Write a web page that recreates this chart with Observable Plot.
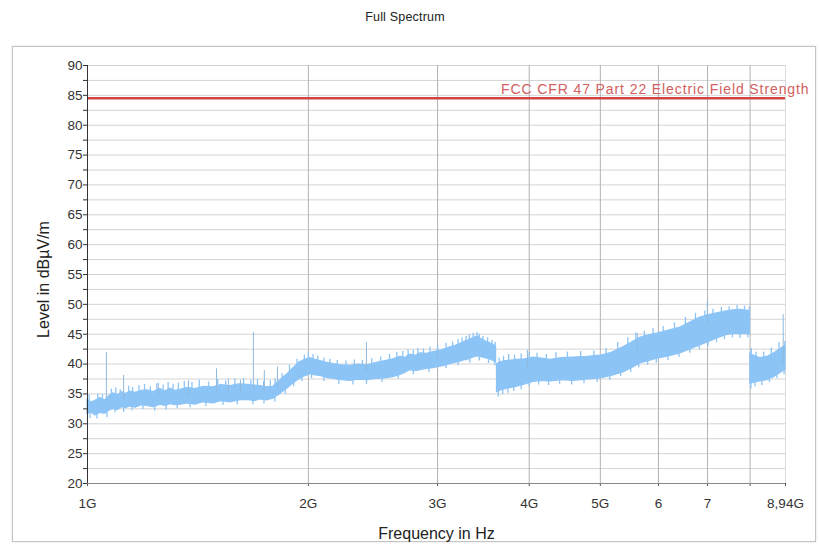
<!DOCTYPE html>
<html>
<head>
<meta charset="utf-8">
<script src="https://cdn.jsdelivr.net/npm/d3@7"></script>
<script src="https://cdn.jsdelivr.net/npm/@observablehq/plot@0.6"></script>
<style>
  html, body { margin: 0; padding: 0; background: #fff; }
  #wrap { position: relative; width: 819px; height: 547px; overflow: hidden; font-family: "Liberation Sans", Arial, sans-serif; }
  #frame { position: absolute; left: 12px; top: 46px; width: 802px; height: 494px; border: 1px solid #c4c4c4; box-shadow: 0 0 2px #d8d8d8; }
  #title { position: absolute; left: 0; width: 810px; top: 10px; text-align: center; font-size: 12.5px; color: #222; letter-spacing: 0.2px; }
  #chart { position: absolute; left: 0; top: 0; }
</style>
</head>
<body>
<div id="wrap">
  <div id="frame"></div>
  <div id="title">Full Spectrum</div>
  <div id="chart"></div>
</div>
<script>
// Frequencies in GHz (log axis), envelope of the measured trace in dBµV/m
const freqs = [1.000, 1.012, 1.025, 1.040, 1.058, 1.070, 1.085, 1.100, 1.115, 1.127, 1.145, 1.163, 1.185, 1.207, 1.230, 1.257, 1.277, 1.297, 1.318, 1.339, 1.370, 1.403, 1.440, 1.484, 1.520, 1.566, 1.610, 1.652, 1.690, 1.721, 1.755, 1.792, 1.812, 1.832, 1.852, 1.873, 1.897, 1.920, 1.942, 1.963, 1.988, 2.013, 2.045, 2.077, 2.120, 2.163, 2.220, 2.282, 2.340, 2.407, 2.480, 2.547, 2.610, 2.670, 2.710, 2.754, 2.800, 2.843, 2.900, 2.960, 3.040, 3.123, 3.170, 3.223, 3.260, 3.294, 3.335, 3.378, 3.405, 3.431, 3.485, 3.540, 3.575, 3.605,
  3.615, 3.660, 3.710, 3.780, 3.853, 3.950, 4.053, 4.160, 4.273, 4.430, 4.594, 4.800, 5.000, 5.180, 5.374, 5.520, 5.666, 5.820, 5.977, 6.200, 6.427, 6.640, 6.842, 7.030, 7.216, 7.400, 7.588, 7.770, 7.953, 7.995,
  8.005, 8.054, 8.250, 8.443, 8.650, 8.876, 8.940];
const lows = [31.6, 31.9, 31.4, 31.8, 31.7, 32.2, 32.5, 32.3, 32.8, 32.6, 32.9, 32.7, 33.1, 33.0, 32.8, 33.2, 33.0, 33.3, 33.1, 33.2, 33.4, 33.2, 33.6, 33.4, 33.8, 33.6, 33.9, 34.0, 33.8, 34.1, 33.9, 34.2, 34.6, 35.0, 35.5, 35.9, 36.5, 37.0, 37.4, 37.8, 38.0, 38.3, 38.1, 38.0, 37.7, 37.5, 37.3, 37.2, 37.4, 37.3, 37.5, 37.6, 37.8, 38.2, 38.5, 39.0, 38.8, 39.0, 39.2, 39.3, 39.6, 40.0, 40.2, 40.4, 40.6, 40.7, 41.0, 41.2, 41.3, 41.2, 41.0, 40.8, 40.5, 40.3,
  35.3, 35.6, 35.8, 36.0, 36.2, 36.6, 37.0, 37.2, 37.1, 37.3, 37.2, 37.4, 37.6, 38.0, 38.6, 39.3, 40.1, 40.5, 40.9, 41.3, 41.8, 42.5, 43.1, 43.7, 44.3, 44.8, 45.1, 45.0, 45.1, 45.0,
  36.7, 36.8, 37.1, 37.3, 37.9, 38.8, 39.0];
const highs = [34.0, 33.6, 33.8, 34.3, 33.9, 34.6, 35.1, 34.8, 35.3, 35.0, 35.4, 35.2, 35.5, 35.6, 35.3, 35.8, 35.4, 35.9, 35.5, 35.7, 36.0, 35.8, 36.2, 36.1, 36.5, 36.3, 36.6, 36.5, 36.4, 36.3, 36.1, 36.2, 36.8, 37.3, 37.8, 38.3, 39.0, 39.6, 40.2, 40.5, 40.8, 41.0, 40.7, 40.5, 40.2, 40.0, 39.8, 39.7, 39.9, 39.8, 40.2, 40.5, 40.8, 41.2, 41.0, 41.6, 41.4, 41.8, 41.7, 42.0, 42.3, 42.8, 43.0, 43.4, 43.7, 43.9, 44.2, 44.5, 44.6, 44.3, 43.8, 43.5, 43.2, 42.9,
  40.0, 40.3, 40.5, 40.6, 40.7, 40.8, 41.1, 40.9, 40.7, 41.0, 41.1, 41.2, 41.4, 41.9, 42.8, 43.6, 44.4, 44.8, 45.1, 45.6, 46.1, 47.0, 47.8, 48.2, 48.5, 48.8, 49.0, 49.1, 48.9, 48.8,
  41.8, 41.5, 41.0, 41.2, 41.9, 42.8, 43.0];
// Frequencies where the trace breaks (band edges)
const bandBreaks = [3.61, 8.0];

// Small noise peaks poking above the band, and dips below it
const grassTopFreqs = [1.005, 1.033, 1.048, 1.078, 1.093, 1.108, 1.138, 1.152, 1.175, 1.196, 1.218, 1.243, 1.268, 1.288, 1.308, 1.330, 1.355, 1.388, 1.420, 1.462, 1.505, 1.543, 1.588, 1.632, 1.670, 1.705, 1.738, 1.775, 1.802, 1.842, 1.885, 1.930, 1.975, 2.000, 2.030, 2.060, 2.100, 2.140, 2.190, 2.250, 2.310, 2.370, 2.440, 2.510, 2.580, 2.640, 2.690, 2.735, 2.780, 2.820, 2.870, 2.930, 3.000, 3.080, 3.145, 3.200, 3.240, 3.280, 3.315, 3.355, 3.395, 3.420, 3.460, 3.510, 3.560, 3.595,
  3.64, 3.69, 3.75, 3.82, 3.90, 4.00, 4.10, 4.22, 4.35, 4.51, 4.70, 4.90, 5.09, 5.28, 5.45, 5.59, 5.74, 5.90, 6.09, 6.31, 6.53, 6.74, 6.94, 7.12, 7.31, 7.49, 7.68, 7.86, 7.98,
  8.03, 8.15, 8.35, 8.55, 8.76, 8.92];
const grassTopLevels = [34.8, 35.0, 34.9, 35.8, 36.0, 35.7, 36.3, 36.1, 36.4, 36.6, 36.2, 36.7, 36.5, 36.9, 36.6, 36.8, 37.1, 36.9, 37.3, 37.0, 37.4, 37.2, 37.5, 37.6, 37.3, 37.4, 37.1, 37.2, 37.5, 38.4, 39.8, 40.8, 41.5, 41.8, 41.6, 41.3, 41.0, 40.8, 40.6, 40.5, 40.7, 40.6, 40.9, 41.2, 41.6, 42.0, 42.1, 42.4, 42.3, 42.6, 42.5, 42.8, 43.1, 43.5, 43.7, 44.1, 44.4, 44.6, 44.9, 45.1, 45.3, 45.0, 44.6, 44.4, 44.0, 43.6,
  41.0, 41.3, 41.6, 41.5, 41.7, 42.0, 41.8, 41.6, 41.9, 42.0, 42.1, 42.2, 42.6, 43.6, 44.4, 45.2, 45.5, 45.9, 46.3, 46.9, 47.8, 48.5, 48.9, 49.2, 49.5, 49.6, 49.8, 49.7, 49.5,
  42.6, 42.0, 42.0, 42.7, 43.6, 43.8];
const grassDipFreqs = [1.008, 1.030, 1.063, 1.090, 1.120, 1.150, 1.190, 1.235, 1.280, 1.325, 1.380, 1.450, 1.530, 1.600, 1.680, 1.740, 1.800, 1.860, 1.910, 1.960, 2.020, 2.100, 2.200, 2.300, 2.400, 2.520, 2.650, 2.780, 2.920, 3.080, 3.200, 3.320, 3.420, 3.520, 3.590,
  3.63, 3.68, 3.74, 3.81, 3.90, 4.00, 4.12, 4.25, 4.40, 4.57, 4.75, 4.95, 5.15, 5.33, 5.50, 5.64, 5.80, 5.96, 6.18, 6.40, 6.62, 6.82, 7.01, 7.20, 7.38, 7.57, 7.75, 7.94,
  8.02, 8.12, 8.30, 8.50, 8.70, 8.90];
const grassDipLevels = [30.9, 30.8, 31.0, 31.8, 31.9, 32.2, 32.4, 32.1, 32.3, 32.5, 32.7, 32.9, 33.1, 33.2, 33.2, 33.3, 33.6, 34.9, 36.2, 37.1, 37.6, 37.1, 36.6, 36.5, 36.6, 36.9, 37.5, 38.2, 38.6, 39.2, 39.7, 40.2, 40.5, 40.1, 39.7,
  34.5, 34.9, 35.1, 35.4, 35.7, 36.2, 36.5, 36.4, 36.6, 36.5, 36.7, 36.9, 37.3, 37.9, 38.6, 39.4, 39.8, 40.2, 40.6, 41.1, 41.8, 42.4, 43.0, 43.6, 44.1, 44.4, 44.3, 44.4,
  35.8, 36.2, 36.4, 36.9, 37.6, 38.2];

// Narrow spikes rising above the noise floor
const spikeFreqs = [1.061, 1.120, 1.249, 1.373, 1.499, 1.556, 1.616, 1.683, 1.742, 1.815, 2.400, 2.998, 3.977, 5.615, 6.995, 8.876];
const spikeBases = [33.5, 34.0, 34.5, 34.5, 35.0, 35.0, 35.0, 35.5, 35.5, 36.0, 38.5, 40.5, 39.0, 42.0, 46.5, 40.0];
const spikePeaks = [41.9, 38.1, 36.8, 37.2, 39.2, 37.5, 37.3, 45.3, 38.9, 39.5, 43.6, 42.6, 42.3, 45.1, 50.5, 48.3];

// Limit line
const limitLevel = 84.5;
const limitLabel = "FCC CFR 47 Part 22 Electric Field Strength";

// Axis ticks
const xTicks = [1, 2, 3, 4, 5, 6, 7, 8, 8.94];
const xTickLabels = ["1G", "2G", "3G", "4G", "5G", "6", "7", "", "8,94G"];
const xGridLines = [2, 3, 4, 5, 6, 7, 8];
const yTicks = [20, 22.5, 25, 27.5, 30, 32.5, 35, 37.5, 40, 42.5, 45, 47.5, 50, 52.5, 55, 57.5, 60, 62.5, 65, 67.5, 70, 72.5, 75, 77.5, 80, 82.5, 85, 87.5, 90];

const bandOf = f => f < bandBreaks[0] ? "A" : f < bandBreaks[1] ? "B" : "C";
const trace = freqs.map((f, i) => ({f, lo: lows[i], hi: highs[i], band: bandOf(f)}));
const spikes = spikeFreqs.map((f, i) => ({f, base: spikeBases[i], peak: spikePeaks[i]}));
const grassTop = grassTopFreqs.map((f, i) => ({f, v: grassTopLevels[i]}));
const grassDip = grassDipFreqs.map((f, i) => ({f, v: grassDipLevels[i]}));
const xLabelMap = new Map(xTicks.map((t, i) => [t, xTickLabels[i]]));
const bandColor = "#8cc4f6";

const chart = Plot.plot({
  width: 819,
  height: 547,
  marginLeft: 87,
  marginRight: 34,
  marginTop: 65,
  marginBottom: 64,
  style: {fontFamily: "'Liberation Sans', Arial, sans-serif", fontSize: "13px", color: "#333", background: "transparent", overflow: "visible"},
  x: {type: "log", domain: [1, 8.94]},
  y: {domain: [20, 90]},
  marks: [
    Plot.gridY(yTicks, {stroke: "#d4d4d4", strokeOpacity: 1}),
    Plot.gridX(xGridLines, {stroke: "#b2b2b2", strokeOpacity: 1}),
    Plot.gridX([8.94], {stroke: "#dcdcdc", strokeOpacity: 1}),
    Plot.areaY(trace, {x: "f", y1: "lo", y2: "hi", z: "band", fill: bandColor, stroke: bandColor, strokeWidth: 1.2, curve: "linear"}),
    Plot.ruleX(grassTop, {x: "f", y1: d => d.v - 2.5, y2: "v", stroke: bandColor, strokeWidth: 1.3}),
    Plot.ruleX(grassDip, {x: "f", y1: "v", y2: d => d.v + 2.5, stroke: bandColor, strokeWidth: 1.3}),
    Plot.ruleX(spikes, {x: "f", y1: "base", y2: "peak", stroke: "#8fb9e0", strokeWidth: 1}),
    Plot.ruleY([limitLevel], {stroke: "#cf4545", strokeWidth: 2.5}),
    Plot.text([limitLabel], {x: 8.94, y: limitLevel, dx: 24, dy: -9, textAnchor: "end", fill: "#d2605e", fontSize: 14}),
    Plot.axisY(yTicks, {tickSize: 4, tickPadding: 1, tickFormat: d => d % 5 === 0 ? String(d) : "", stroke: "#333", label: null, fontSize: 13.5}),
    Plot.axisX(xTicks, {tickSize: 3, tickPadding: 12, tickFormat: d => xLabelMap.get(d), stroke: "#555", label: null, fontSize: 13.5}),
    Plot.ruleX([1], {stroke: "#333", strokeWidth: 1}),
    Plot.ruleY([20], {stroke: "#888", strokeWidth: 1}),
    Plot.text(["Level in dBµV/m"], {frameAnchor: "left", textAnchor: "middle", rotate: -90, dx: -44, dy: 5, fontSize: 16, fill: "#222"}),
    Plot.text(["Frequency in Hz"], {frameAnchor: "bottom", textAnchor: "middle", dy: 55, fontSize: 16, fill: "#222"})
  ]
});
d3.select(chart).selectAll("text").filter(function() { return this.textContent === limitLabel; }).attr("letter-spacing", "0.9px");
document.getElementById("chart").appendChild(chart);
</script>
</body>
</html>
